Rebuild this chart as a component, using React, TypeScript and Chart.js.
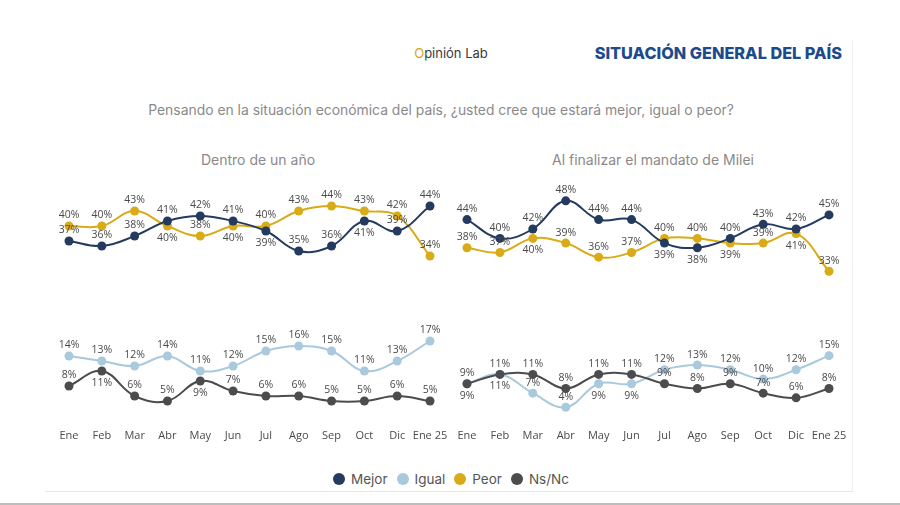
import React, { useEffect, useRef } from "react";
import { Chart, registerables } from "chart.js";
Chart.register(...registerables);

const months = ["Ene", "Feb", "Mar", "Abr", "May", "Jun", "Jul", "Ago", "Sep", "Oct", "Dic", "Ene 25"];
const seriesNames = ["Mejor", "Igual", "Peor", "Ns/Nc"];

const yearMejor = [37, 36, 38, 41, 42, 41, 39, 35, 36, 41, 39, 44];
const yearIgual = [14, 13, 12, 14, 11, 12, 15, 16, 15, 11, 13, 17];
const yearPeor = [40, 40, 43, 40, 38, 40, 40, 43, 44, 43, 42, 34];
const yearNsNc = [8, 11, 6, 5, 9, 7, 6, 6, 5, 5, 6, 5];

const termMejor = [44, 40, 42, 48, 44, 44, 39, 38, 40, 43, 42, 45];
const termIgual = [9, 11, 7, 4, 9, 9, 12, 13, 12, 10, 12, 15];
const termPeor = [38, 37, 40, 39, 36, 37, 40, 40, 39, 39, 41, 33];
const termNsNc = [9, 11, 11, 8, 11, 11, 9, 8, 9, 7, 6, 8];

const COLORS = ["#243a5e", "#a9c9dd", "#d8ab17", "#4c4c4e"];
const DRAW_ORDER = [1, 2, 1, 0];
const PARTNER = [2, 3, 0, 1];

const labelPlugin = {
  id: "pctLabels",
  afterDatasetsDraw(chart: any) {
    const ctx = chart.ctx;
    const ds = chart.data.datasets;
    ctx.save();
    ctx.font = "10.5px 'Open Sans'";
    ctx.fillStyle = "#4a4a4a";
    ctx.textAlign = "center";
    ctx.textBaseline = "middle";
    ds.forEach((d: any, i: number) => {
      const meta = chart.getDatasetMeta(i);
      const other = ds[PARTNER[i]].data;
      meta.data.forEach((pt: any, j: number) => {
        const v = d.data[j];
        const p = other[j];
        const below = (p > v && p - v <= 2) || (p === v && i === 1);
        const y = below ? pt.y + 12 : pt.y - 10.5;
        ctx.fillText(v + "%", pt.x, y);
      });
    });
    ctx.restore();
  },
};

function Panel(props: { series: number[][]; max: number; left: number; top: number; width: number; height: number }) {
  const ref = useRef<HTMLCanvasElement>(null);
  useEffect(() => {
    const chart = new Chart(ref.current as HTMLCanvasElement, {
      type: "line",
      data: {
        labels: months,
        datasets: props.series.map((s, i) => ({
          label: seriesNames[i],
          data: s,
          borderColor: COLORS[i],
          backgroundColor: COLORS[i],
          pointBackgroundColor: COLORS[i],
          pointBorderColor: COLORS[i],
          pointRadius: 4.5,
          pointBorderWidth: 0,
          borderWidth: 2,
          tension: 0.4,
          order: DRAW_ORDER[i],
          clip: false as any,
        })),
      },
      options: {
        responsive: false,
        animation: false,
        devicePixelRatio: 1,
        layout: { padding: { left: 30, right: 30, top: 10, bottom: 0 } },
        plugins: { legend: { display: false }, tooltip: { enabled: false } },
        scales: {
          x: {
            offset: false,
            grid: { display: false, drawTicks: false },
            border: { display: false },
            ticks: { color: "#4a4a4a", font: { family: "'Open Sans'", size: 11 }, padding: 3, maxRotation: 0, autoSkip: false },
            afterFit: (scale: any) => {
              scale.height = 22;
            },
          },
          y: { display: false, min: 0, max: props.max },
        },
      },
      plugins: [labelPlugin],
    });
    return () => chart.destroy();
  }, []);
  return (
    <canvas
      ref={ref}
      width={props.width}
      height={props.height}
      style={{ position: "absolute", left: props.left, top: props.top, width: props.width, height: props.height }}
    />
  );
}

const text = (x: number, y: number, s: React.CSSProperties, content: React.ReactNode, align = "center") => (
  <div
    style={{
      position: "absolute",
      left: x,
      top: y,
      transform: align === "center" ? "translate(-50%, -50%)" : align === "right" ? "translate(-100%, -50%)" : "translate(0, -50%)",
      whiteSpace: "nowrap",
      lineHeight: 1,
      ...s,
    }}
  >
    {content}
  </div>
);

export default function App() {
  return (
    <div style={{ position: "absolute", left: 0, top: 0, width: 900, height: 505, background: "#fff", overflow: "hidden", fontFamily: "Inter, sans-serif" }}>
      <div style={{ position: "absolute", left: 852, top: 40, width: 1, height: 451, background: "#efefef" }} />
      <div style={{ position: "absolute", left: 45, top: 491, width: 808, height: 1, background: "#e6e6e6" }} />
      <div style={{ position: "absolute", left: 0, top: 503, width: 900, height: 2, background: "#bdbdbd" }} />
      {text(451, 53, { fontSize: 13, color: "#3a3a3a", fontFamily: "Inter, sans-serif" }, <><span style={{ color: "#d9a31c" }}>O</span>pinión Lab</>)}
      {text(842, 53, { fontSize: 16.3, fontWeight: 800, color: "#1d4a8c", fontFamily: "Inter, sans-serif" }, "SITUACIÓN GENERAL DEL PAÍS", "right")}
      {text(441, 111, { fontSize: 13.9, color: "#8a8a8a", fontWeight: 400 }, "Pensando en la situación económica del país, ¿usted cree que estará mejor, igual o peor?")}
      {text(258, 160, { fontSize: 14, color: "#8a8a8a" }, "Dentro de un año")}
      {text(653, 160, { fontSize: 14, color: "#8a8a8a" }, "Al finalizar el mandato de Milei")}
      <Panel series={[yearMejor, yearIgual, yearPeor, yearNsNc]} max={50} left={39} top={166} width={421} height={282} />
      <Panel series={[termMejor, termIgual, termPeor, termNsNc]} max={53.3} left={437} top={166} width={422} height={282} />
      <div style={{ position: "absolute", left: 0, top: 479, width: 900, display: "flex", justifyContent: "center", transform: "translateY(-50%)", paddingLeft: 2, boxSizing: "border-box" }}>
        {seriesNames.map((n, i) => (
          <div key={n} style={{ display: "flex", alignItems: "center", marginRight: i < 3 ? 9 : 0 }}>
            <span style={{ display: "inline-block", width: 12, height: 12, borderRadius: 6, background: COLORS[i], marginRight: 6 }} />
            <span style={{ fontSize: 13.5, color: "#555", fontFamily: "Inter, sans-serif" }}>{n}</span>
          </div>
        ))}
      </div>
    </div>
  );
}
